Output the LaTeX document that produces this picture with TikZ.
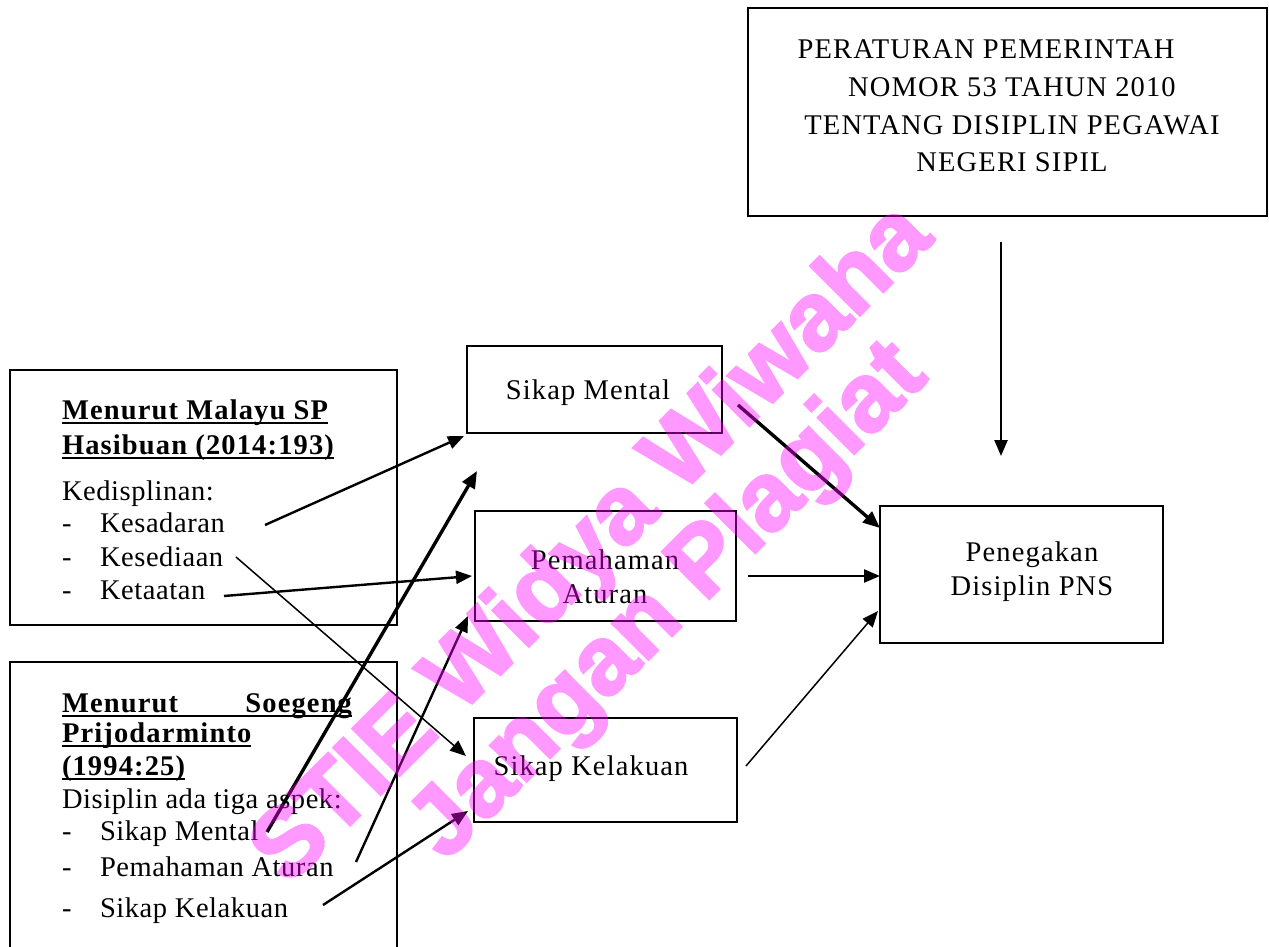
\documentclass[tikz,border=0pt]{standalone}
\usepackage{fontspec}
\setmainfont{Liberation Serif}
\newfontfamily\lsfont[LetterSpace=2]{Liberation Serif}
\newfontfamily\bsfont[LetterSpace=4]{Liberation Serif}
\newfontfamily\wmfont[FakeBold=2.5]{Liberation Sans}
\newcommand{\thickul}[1]{\vtop{\hbox{\raisebox{0pt}[\height][0pt]{#1}}\kern2.5pt\hrule height 2.4pt}}
\usetikzlibrary{arrows.meta}
\begin{document}
\begin{tikzpicture}[x=1pt,y=-1pt,
  every node/.style={inner sep=0pt, outer sep=0pt},
  boxframe/.style={draw=black, line width=2.6pt},
  txt/.style={font=\fontsize{28.5}{33}\lsfont, anchor=base west},
  ctxt/.style={font=\fontsize{28.5}{34}\bsfont, align=center},
  hd/.style={font=\fontsize{28.5}{33}\bsfont\bfseries, anchor=base west},
  arr/.style={line width=2.4pt, -{Triangle[length=16pt,width=13pt]}},
  thickarr/.style={line width=3.4pt, -{Triangle[length=17pt,width=14pt]}},
  thinarr/.style={line width=1.5pt, -{Triangle[length=16pt,width=13pt]}},
  wm/.style={font=\fontsize{97}{97}\wmfont\bfseries, text={rgb,255:red,255;green,0;blue,255}, rotate=45}
]
\useasboundingbox (0,0) rectangle (1269,947);
\clip (0,0) rectangle (1269,947);

% top box
\node[boxframe, minimum width=519pt, minimum height=208pt] (pp) at (1007.5,112) {};
\node[ctxt, font=\fontsize{28.5}{37.7}\bsfont] (pptext) at (1012,106) {PERATURAN PEMERINTAH\hphantom{MM}\\NOMOR 53 TAHUN 2010\\TENTANG DISIPLIN PEGAWAI\\NEGERI SIPIL};

% result box
\node[boxframe, minimum width=283pt, minimum height=137pt] (pd) at (1021.5,574.5) {};
\node[ctxt] (pdtext) at (1032,572) {Penegakan\\Disiplin PNS};

% middle boxes
\node[boxframe, minimum width=255pt, minimum height=87pt] (sm) at (594.5,389.5) {};
\node[ctxt] (smtext) at (588,393) {Sikap Mental};
\node[boxframe, minimum width=261pt, minimum height=110pt] (pa) at (605.5,566) {};
\node[ctxt] (patext) at (605,577) {Pemahaman\\Aturan};
\node[boxframe, minimum width=263pt, minimum height=104pt] (sk) at (605.5,770) {};
\node[ctxt] (sktext) at (591,769) {Sikap Kelakuan};

% left box 1
\node[boxframe, minimum width=387pt, minimum height=255pt] (lb1) at (203.5,497.5) {};
\node[hd] (h1a) at (62,419) {\thickul{Menurut Malayu SP}};
\node[hd] (h1b) at (62,454) {\thickul{Hasibuan (2014:193)}};
\node[txt] (k0) at (62,500) {Kedisplinan:};
\node[txt] (d1) at (62,532) {-};
\node[txt] (k1) at (100,532) {Kesadaran};
\node[txt] (d2) at (62,566) {-};
\node[txt] (k2) at (100,566) {Kesediaan};
\node[txt] (d3) at (62,599) {-};
\node[txt] (k3) at (100,599) {Ketaatan};

% left box 2
\node[boxframe, minimum width=387pt, minimum height=320pt] (lb2) at (203.5,822) {};
\node[hd] (h2a) at (62,712) {\thickul{\makebox[290pt][s]{Menurut\hfill Soegeng}}};
\node[hd] (h2b) at (62,742) {\thickul{Prijodarminto}};
\node[hd] (h2c) at (62,775) {\thickul{(1994:25)}};
\node[txt] (s0) at (62,808) {Disiplin ada tiga aspek:};
\node[txt] (e1) at (62,840) {-};
\node[txt] (s1) at (100,840) {Sikap Mental};
\node[txt] (e2) at (62,876) {-};
\node[txt] (s2) at (100,876) {Pemahaman Aturan};
\node[txt] (e3) at (62,917) {-};
\node[txt] (s3) at (100,917) {Sikap Kelakuan};

% free ends of connectors
\coordinate (c1s) at (265,525);
\coordinate (c1e) at (464,436);
\coordinate (c2s) at (267,832);
\coordinate (c2e) at (477,471);
\coordinate (c3s) at (224,596);
\coordinate (c3e) at (472,576);
\coordinate (c4s) at (236,557);
\coordinate (c4e) at (466,756);
\coordinate (c5s) at (356,862);
\coordinate (c5e) at (468,616);
\coordinate (c6s) at (323,905);
\coordinate (c6e) at (468,811);
\coordinate (c7s) at (738,405);
\coordinate (c7e) at (880,528);
\coordinate (c8s) at (748,576);
\coordinate (c9s) at (746,766);
\coordinate (c9e) at (878,611);
\coordinate (c10s) at (1001,242);
\coordinate (c10e) at (1001,456);

% connectors
\draw[arr] (c1s) -- (c1e);
\draw[thickarr] (c2s) -- (c2e);
\draw[arr] (c3s) -- (c3e);
\draw[thinarr] (c4s) -- (c4e);
\draw[arr] (c5s) -- (c5e);
\draw[arr] (c6s) -- (c6e);
\draw[thickarr] (c7s) -- (c7e);
\draw[arr] (c8s) -- (pd.west |- c8s);
\draw[thinarr] (c9s) -- (c9e);
\draw[arr] (c10s) -- (c10e);

% watermark
\begin{scope}[transparency group, opacity=0.4]
\node[wm] (wm1) at (594,546) {STIE Widya Wiwaha};
\node[wm] (wm2) at (670,603) {Jangan Plagiat};
\end{scope}
\end{tikzpicture}
\end{document}
